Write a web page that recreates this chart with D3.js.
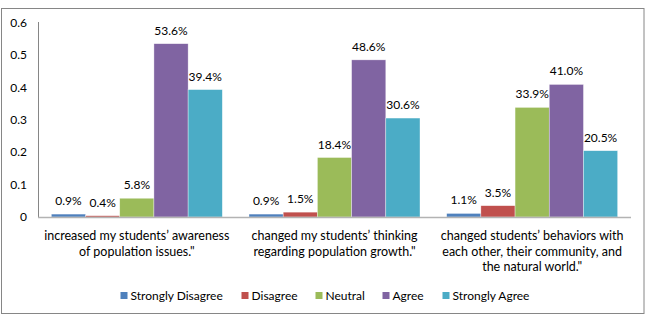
<!DOCTYPE html>
<html><head><meta charset="utf-8">
<script src="https://cdn.jsdelivr.net/npm/d3@7"></script>
<style>body{margin:0;background:#fff}svg text{font-family:Lato, "Liberation Sans", sans-serif;fill:#000}</style>
</head><body><svg id="c" width="658" height="325"></svg>
<script>
const categories = [
  ["increased my students\u2019 awareness", "of population issues.\""],
  ["changed my students\u2019 thinking", "regarding population growth.\""],
  ["changed students\u2019 behaviors with", "each other, their community, and", "the natural world.\""]
];
const seriesNames = ["Strongly Disagree", "Disagree", "Neutral", "Agree", "Strongly Agree"];
const stronglyDisagree = [0.009, 0.009, 0.011];
const disagree = [0.004, 0.015, 0.035];
const neutral = [0.058, 0.184, 0.339];
const agree = [0.536, 0.486, 0.410];
const stronglyAgree = [0.394, 0.306, 0.205];
const yTicks = [0, 0.1, 0.2, 0.3, 0.4, 0.5, 0.6];
const colors = ["#4F81BD", "#C0504D", "#9BBB59", "#8064A2", "#4BACC6"];

const series = [stronglyDisagree, disagree, neutral, agree, stronglyAgree];
const svg = d3.select("#c");
svg.append("rect").attr("x",1.5).attr("y",8.5).attr("width",642.5).attr("height",305)
  .attr("fill","#fff").attr("stroke","#868686");

const x0 = 38, x1 = 631, yBase = 217;
const y = d3.scaleLinear().domain([0,0.6]).range([yBase, 23]);
const gIdx = d3.range(categories.length);
const xg = d3.scaleBand().domain(gIdx).range([x0, x1]).paddingInner(0.135).paddingOuter(0.0675);
const xs = d3.scaleBand().domain(d3.range(series.length)).range([0, xg.bandwidth()]);

// y axis labels
svg.append("g").selectAll("text").data(yTicks).join("text")
  .attr("x",27).attr("y",d=>y(d)+4).attr("text-anchor","end").attr("font-size",12)
  .text(d=>d===0?"0":d3.format(".1f")(d));

// bars
series.forEach((s,si)=>{
  const g = svg.append("g");
  g.selectAll("rect").data(s).join("rect")
    .attr("x",(d,i)=>xg(i)+xs(si)).attr("width",xs.bandwidth())
    .attr("y",d=>y(d)).attr("height",d=>yBase-y(d)).attr("fill",colors[si])
    .attr("stroke","#fff").attr("stroke-opacity",0.6).attr("stroke-width",0.6);
  g.selectAll("text").data(s).join("text")
    .attr("x",(d,i)=>xg(i)+xs(si)+xs.bandwidth()/2).attr("y",d=>y(d)-9)
    .attr("text-anchor","middle").attr("font-size",12)
    .text(d=>d3.format(".1%")(d));
});

// axes lines
svg.append("line").attr("x1",x0+0.5).attr("x2",x0+0.5).attr("y1",22).attr("y2",yBase).attr("stroke","#868686");
svg.append("line").attr("x1",x0).attr("x2",x1).attr("y1",yBase+0.5).attr("y2",yBase+0.5).attr("stroke","#b3b3b3").attr("stroke-width",1.5);

// category labels
categories.forEach((lines,i)=>{
  svg.append("text").attr("text-anchor","middle").attr("font-size",12.5)
    .selectAll("tspan").data(lines).join("tspan")
    .attr("x",xg(i)+xg.bandwidth()/2).attr("y",(d,j)=>240+j*15.5).text(d=>d);
});

// legend
const legX = [120.5, 241.5, 315.5, 382.5, 442.5];
const leg = svg.append("g");
seriesNames.forEach((n,i)=>{
  leg.append("rect").attr("x",legX[i]).attr("y",292).attr("width",7).attr("height",7).attr("fill",colors[i]);
  leg.append("text").attr("x",legX[i]+10).attr("y",300).attr("font-size",12).text(n);
});
</script></body></html>
